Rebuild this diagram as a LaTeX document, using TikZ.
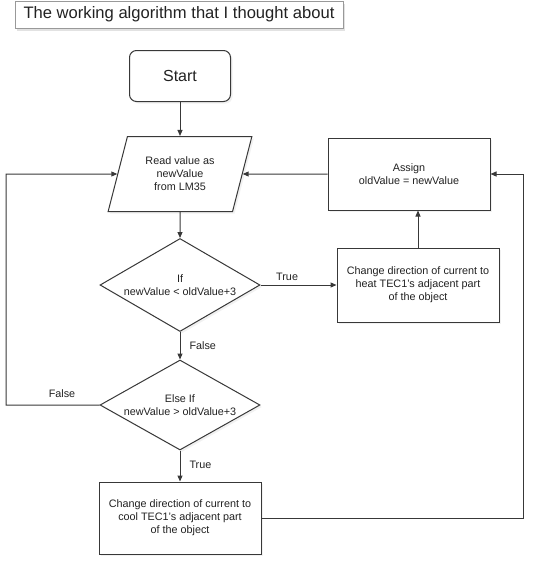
\documentclass[tikz,border=0pt]{standalone}
\usepackage{fontspec}
\setmainfont{Liberation Sans}
\usetikzlibrary{shapes.geometric,arrows.meta,shadows}
\definecolor{ln}{HTML}{383838}
\definecolor{tx}{HTML}{222222}
\definecolor{shd}{HTML}{E4E4E4}
\tikzset{
  base/.style={draw=ln, line width=1pt, fill=white, text=tx, align=center,
    font=\fontsize{10.8}{13}\selectfont,
    drop shadow={shadow xshift=2pt, shadow yshift=-2pt, fill=shd, draw=none}},
  proc/.style={base, rectangle, minimum width=162pt, minimum height=72pt, inner sep=2pt},
  startbox/.style={base, rectangle, rounded corners=7pt, minimum width=101pt, minimum height=51pt,
    font=\fontsize{16}{18}\selectfont},
  io/.style={base, trapezium, trapezium left angle=69.5, trapezium right angle=110.5,
    trapezium stretches=true, minimum width=145pt, minimum height=75pt, inner sep=0pt},
  dec/.style={base, diamond, aspect=1.74, minimum width=160pt, minimum height=93pt, inner sep=0pt},
  conn/.style={draw=ln, line width=1pt, -{Triangle[length=6pt,width=5pt]}},
  lbl/.style={text=tx, font=\fontsize{10.8}{13}\selectfont, inner sep=1pt},
}
\begin{document}
\begin{tikzpicture}[x=1pt,y=-1pt]
\useasboundingbox (0,0) rectangle (540,565);
\node[draw=gray!80, line width=0.8pt, fill=white, minimum width=328pt, minimum height=27pt,
  inner sep=0pt, text=tx, font=\fontsize{16.6}{19}\selectfont,
  drop shadow={shadow xshift=2pt, shadow yshift=-2.5pt, fill=gray!45, draw=none}]
  (title) at (179,14.5) {The working algorithm that I thought about};
\node[startbox] (start) at (180,76) {Start};
\node[io] (read) at (180,174) {Read value as\\newValue\\from LM35};
\node[proc] (assign) at (409,174) {Assign\\oldValue = newValue};
\node[dec] (if1) at (180,285) {If\\newValue < oldValue+3};
\node[proc, minimum height=74pt] (heat) at (418,285) {Change direction of current to\\heat TEC1's adjacent part\\of the object};
\node[dec, minimum height=90pt] (if2) at (180,405) {Else If\\newValue > oldValue+3};
\node[proc] (cool) at (180,518) {Change direction of current to\\cool TEC1's adjacent part\\of the object};
\coordinate (lft) at (6,174);
\coordinate (rgt) at (523,174);
\draw[conn] (start) -- (read);
\draw[conn] (read) -- (if1);
\draw[conn] (if1) -- node[lbl, right=8pt, pos=0.5] (f1) {False} (if2);
\draw[conn] (if2) -- node[lbl, right=8pt, pos=0.45] (t2) {True} (cool);
\draw[conn] (if1.east) -- node[lbl, above=3pt, pos=0.35] (t1) {True} (heat.west);
\draw[conn] (heat.north) -- (heat.north |- assign.south);
\draw[conn] (assign.west) -- (read.east);
\draw[conn] (if2.west) -| (lft) -- (read.west);
\node[lbl] (f2) at (62,394) {False};
\draw[conn] (cool.east) -| (rgt) -- (assign.east);
\end{tikzpicture}
\end{document}
